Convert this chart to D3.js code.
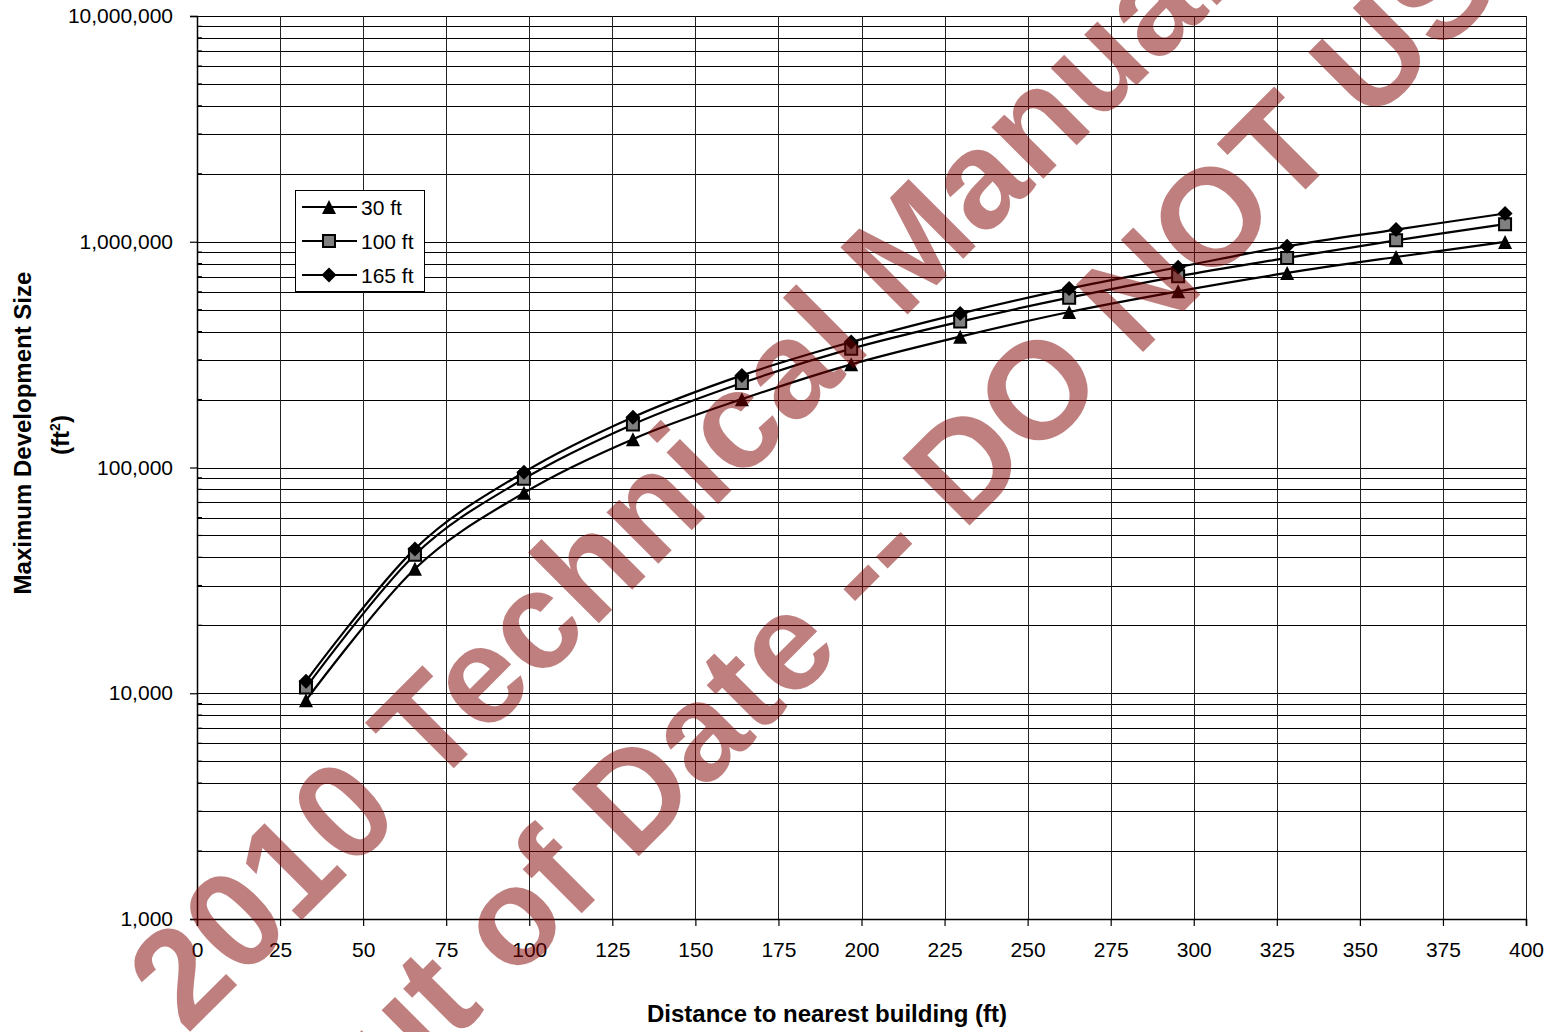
<!DOCTYPE html>
<html>
<head>
<meta charset="utf-8">
<script src="https://cdn.jsdelivr.net/npm/d3@7"></script>
<style>
  html, body { margin: 0; padding: 0; background: #fff; }
  svg { display: block; font-family: "Liberation Sans", Arial, sans-serif; }
</style>
</head>
<body>
<svg id="chart" width="1552" height="1032"></svg>
<script>
// ---------- data ----------
const distanceFt = [32.8, 65.6, 98.4, 131.2, 164.0, 196.9, 229.7, 262.5, 295.3, 328.1, 360.9, 393.7];
const size30ft  = [9300, 35600, 77200, 133500, 200800, 286300, 379800, 488400, 603000, 727500, 856000, 998000];
const size100ft = [10600, 41100, 89100, 155200, 236600, 336000, 442800, 565500, 703000, 847700, 1015000, 1196000];
const size165ft = [11300, 43600, 95300, 167100, 255900, 359500, 480600, 620000, 771000, 955000, 1132000, 1334000];
const seriesNames = ["30 ft", "100 ft", "165 ft"];
const xTickValues = [0, 25, 50, 75, 100, 125, 150, 175, 200, 225, 250, 275, 300, 325, 350, 375, 400];
const yMajorTicks = [1000, 10000, 100000, 1000000, 10000000];
const xTitle = "Distance to nearest building (ft)";
const yTitle = "Maximum Development Size";
const watermarkLines = ["2010 Technical Manual", "Out of Date -- DO NOT USE"];

// ---------- layout ----------
const svg = d3.select("#chart");
const pLeft = 197, pRight = 1526, pTop = 16, pBottom = 919;
const x = d3.scaleLinear().domain([0, 400]).range([pLeft, pRight]);
const y = d3.scaleLog().domain([1000, 10000000]).range([pBottom, pTop]);

svg.append("rect").attr("width", 1552).attr("height", 1032).attr("fill", "#fff");

// gridlines
const grid = svg.append("g").attr("shape-rendering", "crispEdges");
grid.selectAll("line.h").data(y.ticks()).join("line")
  .attr("x1", pLeft).attr("x2", pRight)
  .attr("y1", d => Math.round(y(d)) + 0.5).attr("y2", d => Math.round(y(d)) + 0.5)
  .attr("stroke", "#000").attr("stroke-width", 1);
grid.selectAll("line.v").data(xTickValues).join("line")
  .attr("y1", pTop).attr("y2", pBottom)
  .attr("x1", d => Math.round(x(d)) + 0.5).attr("x2", d => Math.round(x(d)) + 0.5)
  .attr("stroke", "#222").attr("stroke-width", 1);

// axes
const yAxis = svg.append("g").attr("transform", `translate(${pLeft},0)`)
  .call(d3.axisLeft(y).tickValues(yMajorTicks).tickFormat(d3.format(",")).tickSize(7).tickPadding(17));
const xAxis = svg.append("g").attr("transform", `translate(0,${pBottom})`)
  .call(d3.axisBottom(x).tickValues(xTickValues).tickFormat(d3.format("d")).tickSize(7).tickPadding(16));
[yAxis, xAxis].forEach(g => {
  g.select(".domain").attr("stroke", "#000").attr("stroke-width", 1.5);
  g.selectAll(".tick line").attr("stroke", "#000").attr("stroke-width", 1.2);
  g.selectAll("text").attr("font-size", 21).attr("fill", "#000")
    .attr("font-family", "'Liberation Sans', Arial, sans-serif");
});
// inside minor ticks on y axis
svg.append("g").selectAll("line").data(y.ticks().filter(d => !yMajorTicks.includes(d))).join("line")
  .attr("x1", pLeft).attr("x2", pLeft + 5)
  .attr("y1", d => y(d)).attr("y2", d => y(d))
  .attr("stroke", "#000").attr("stroke-width", 1.2);

// axis titles
svg.append("text").attr("x", 827).attr("y", 1022).attr("text-anchor", "middle")
  .attr("font-size", 24).attr("font-weight", "bold").text(xTitle);
const yt = svg.append("text").attr("transform", "translate(31,433) rotate(-90)")
  .attr("text-anchor", "middle").attr("font-size", 24).attr("font-weight", "bold");
yt.append("tspan").attr("x", 0).attr("y", 0).text(yTitle);
const yt2 = svg.append("text").attr("transform", "translate(69,435) rotate(-90)")
  .attr("text-anchor", "middle").attr("font-size", 24).attr("font-weight", "bold");
yt2.append("tspan").text("(ft");
yt2.append("tspan").attr("font-size", 14).attr("dy", -9).text("2");
yt2.append("tspan").attr("dy", 9).text(")");

// markers
const triType = { draw(ctx) { const r = 7; ctx.moveTo(0, -r); ctx.lineTo(r, r); ctx.lineTo(-r, r); ctx.closePath(); } };
const sqType = { draw(ctx) { const r = 6; ctx.moveTo(-r, -r); ctx.lineTo(r, -r); ctx.lineTo(r, r); ctx.lineTo(-r, r); ctx.closePath(); } };
const diaType = { draw(ctx) { const r = 7.5; ctx.moveTo(0, -r); ctx.lineTo(r, 0); ctx.lineTo(0, r); ctx.lineTo(-r, 0); ctx.closePath(); } };
const series = [
  { name: seriesNames[0], values: size30ft, sym: triType, fill: "#000", stroke: "none" },
  { name: seriesNames[1], values: size100ft, sym: sqType, fill: "#808080", stroke: "#000" },
  { name: seriesNames[2], values: size165ft, sym: diaType, fill: "#000", stroke: "none" }
];
const line = d3.line().x(d => x(d[0])).y(d => y(d[1])).curve(d3.curveCardinal.tension(0));

series.forEach(s => {
  const pts = distanceFt.map((d, i) => [d, s.values[i]]);
  svg.append("path").datum(pts).attr("d", line)
    .attr("fill", "none").attr("stroke", "#000").attr("stroke-width", 2.2);
});
series.forEach(s => {
  const pts = distanceFt.map((d, i) => [d, s.values[i]]);
  svg.append("g").selectAll("path").data(pts).join("path")
    .attr("transform", d => `translate(${x(d[0])},${y(d[1])})`)
    .attr("d", d3.symbol().type(s.sym))
    .attr("fill", s.fill).attr("stroke", s.stroke).attr("stroke-width", 2);
});

// legend
const lg = svg.append("g");
lg.append("rect").attr("x", 295.5).attr("y", 190.5).attr("width", 129).attr("height", 101)
  .attr("fill", "#fff").attr("stroke", "#000").attr("stroke-width", 1);
series.forEach((s, i) => {
  const cy = 207 + i * 34;
  lg.append("line").attr("x1", 302).attr("x2", 357).attr("y1", cy).attr("y2", cy)
    .attr("stroke", "#000").attr("stroke-width", 2.2);
  lg.append("path").attr("transform", `translate(329,${cy})`).attr("d", d3.symbol().type(s.sym))
    .attr("fill", s.fill).attr("stroke", s.stroke).attr("stroke-width", 2);
  lg.append("text").attr("x", 361).attr("y", cy + 7.5).attr("font-size", 21).text(s.name);
});

// watermark
const wm = svg.append("g").attr("fill", "rgb(128,0,0)").attr("fill-opacity", 0.5)
  .attr("font-weight", "bold").attr("font-size", 138)
  .attr("font-family", "'Liberation Sans', Arial, sans-serif");
const wmPos = [[712, 510], [944, 551]];
watermarkLines.forEach((t, i) => {
  wm.append("text").attr("text-anchor", "middle")
    .attr("transform", `translate(${wmPos[i][0]},${wmPos[i][1]}) rotate(-45)`)
    .text(t);
});
</script>
</body>
</html>
